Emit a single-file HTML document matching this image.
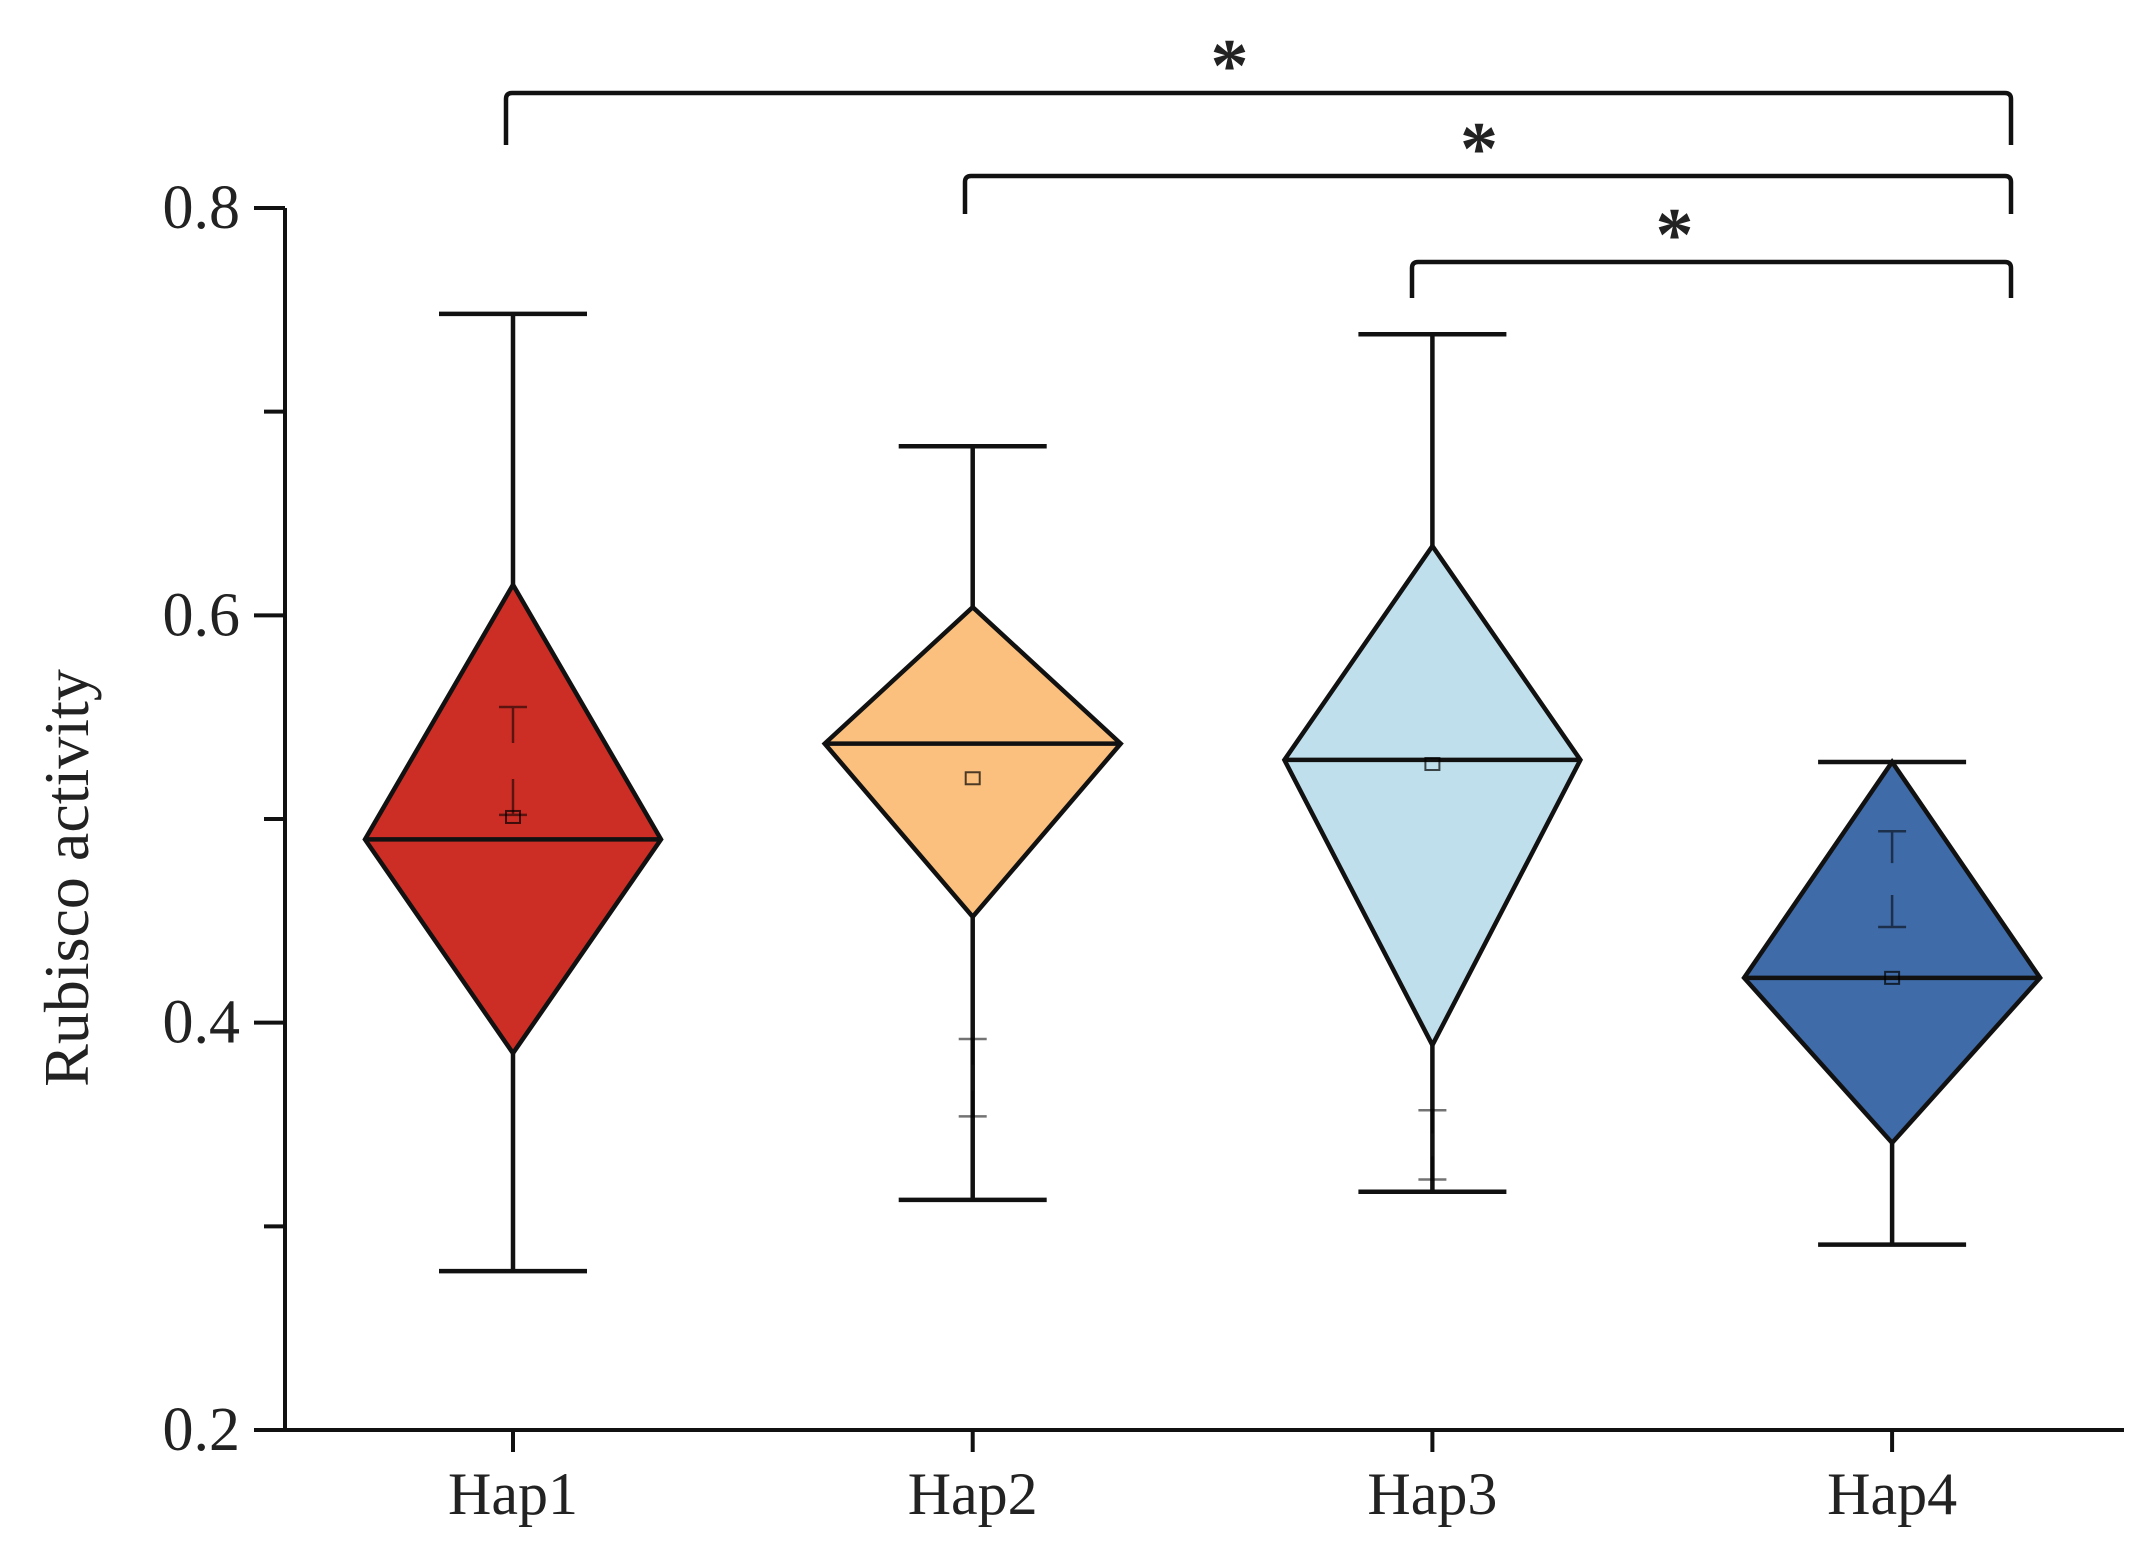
<!DOCTYPE html>
<html><head><meta charset="utf-8"><style>
html,body{margin:0;padding:0;background:#fff;}
svg{display:block;}
text{font-family:"Liberation Serif",serif;fill:#222;}
</style></head><body>
<svg id="chart" width="2156" height="1541" viewBox="0 0 2156 1541" xmlns="http://www.w3.org/2000/svg">
<g id="axes"></g>
<g id="marks"></g>
<g id="sig"></g>
<text x="0" y="0" transform="translate(88,878) rotate(-90)" text-anchor="middle" font-size="64">Rubisco activity</text>
</svg>
<script>
const categories = ["Hap1","Hap2","Hap3","Hap4"];
const whiskerHigh = [0.748,0.683,0.738,0.528];
const diamondTop  = [0.615,0.604,0.634,0.528];
const medians     = [0.490,0.537,0.529,0.422];
const diamondBot  = [0.385,0.452,0.389,0.341];
const whiskerLow  = [0.278,0.313,0.317,0.291];
const means       = [0.501,0.520,0.527,0.422];
const innerHigh   = [0.555,0.392,0.357,0.494];
const innerLow    = [0.502,0.354,0.323,0.447];
const fills = ["#CC2E25","#FBC07D","#C0DFEC","#3F6BA8"];
const yTicks = [0.2,0.4,0.6,0.8];
const yTickLabels = ["0.2","0.4","0.6","0.8"];
const yMinor = [0.3,0.5,0.7];
const brackets = [[0,3],[1,3],[2,3]];
const bracketLabels = ["*","*","*"];

const NS="http://www.w3.org/2000/svg";
const X0=285, X1=2124, Y0=1430, Ytop=208;
function y(v){return Y0-(v-0.2)/0.6*(Y0-Ytop);}
function x(i){return 513+i*459.7;}
function mk(parent,tag,attrs){const e=document.createElementNS(NS,tag);for(const k in attrs)e.setAttribute(k,attrs[k]);parent.appendChild(e);return e;}
const axes=document.getElementById('axes'), marks=document.getElementById('marks'), sig=document.getElementById('sig');

let e=mk(axes,'line',{x1:X0,y1:Ytop,x2:X0,y2:Y0+2,stroke:'#111','stroke-width':4});


e=mk(axes,'line',{x1:X0-2,y1:Y0,x2:X1,y2:Y0,stroke:'#111','stroke-width':4});


yTicks.forEach((v,i)=>{
  let t=mk(axes,'line',{x1:X0-31,y1:y(v),x2:X0,y2:y(v),stroke:'#111','stroke-width':4});
  
  
  let l=mk(axes,'text',{x:X0-45,y:y(v)+20,'text-anchor':'end','font-size':62});
  l.textContent=yTickLabels[i];
  
  
});
yMinor.forEach(v=>{
  let t=mk(axes,'line',{x1:X0-21,y1:y(v),x2:X0,y2:y(v),stroke:'#111','stroke-width':4});
  
  
});
categories.forEach((c,i)=>{
  let t=mk(axes,'line',{x1:x(i),y1:Y0,x2:x(i),y2:Y0+22,stroke:'#111','stroke-width':4});
  
  
  let l=mk(axes,'text',{x:x(i),y:1514,'text-anchor':'middle','font-size':60});
  l.textContent=c;
  
  
});

const HW=148, CAP=74;
categories.forEach((c,i)=>{
  const g=mk(marks,'g',{});
  
  
  const cx=x(i);
  let w=mk(g,'path',{d:`M${cx-CAP},${y(whiskerHigh[i])}H${cx+CAP}M${cx},${y(whiskerHigh[i])}V${y(diamondTop[i])}M${cx},${y(diamondBot[i])}V${y(whiskerLow[i])}M${cx-CAP},${y(whiskerLow[i])}H${cx+CAP}`,stroke:'#111','stroke-width':4.5,fill:'none'});
  
  
  let d=mk(g,'polygon',{points:`${cx},${y(diamondTop[i])} ${cx+HW},${y(medians[i])} ${cx},${y(diamondBot[i])} ${cx-HW},${y(medians[i])}`,fill:fills[i],stroke:'#111','stroke-width':4.5,'stroke-linejoin':'miter'});
  
  
  let m=mk(g,'line',{x1:cx-HW,y1:y(medians[i]),x2:cx+HW,y2:y(medians[i]),stroke:'#111','stroke-width':4.5});
  
  
  const hi=y(innerHigh[i]), lo=y(innerLow[i]), seg=(lo-hi)/3;
  let p=mk(g,'path',{d:`M${cx-14},${hi}H${cx+14}M${cx},${hi}V${hi+seg}M${cx},${lo-seg}V${lo}M${cx-14},${lo}H${cx+14}`,stroke:'rgba(0,0,0,0.55)','stroke-width':2.5,fill:'none'});
  
  
  let mn=mk(g,'rect',{x:cx-7,y:y(means[i])-6,width:14,height:12,fill:'none',stroke:'rgba(0,0,0,0.7)','stroke-width':2});
  
  
});

const bY=[93,176,262], bDrop=[52,38,36], bL=[506,965,1412];
brackets.forEach((b,k)=>{
  const xl=bL[k], xr=2011, yy=bY[k], dd=bDrop[k];
  let p=mk(sig,'path',{d:`M${xl},${yy+dd}V${yy+6}Q${xl},${yy} ${xl+6},${yy}H${xr-6}Q${xr},${yy} ${xr},${yy+6}V${yy+dd}`,stroke:'#111','stroke-width':4.5,fill:'none'});
  
  
  let s=mk(sig,'text',{x:(xl+xr)/2-29+(k===2?-8:0)+(k===1?20:0),y:yy-2,'text-anchor':'middle','font-size':76,'font-weight':'bold'});
  s.setAttribute('font-family','"Liberation Sans",sans-serif');
  s.textContent=bracketLabels[k];
  
  
});
</script>
</body></html>
